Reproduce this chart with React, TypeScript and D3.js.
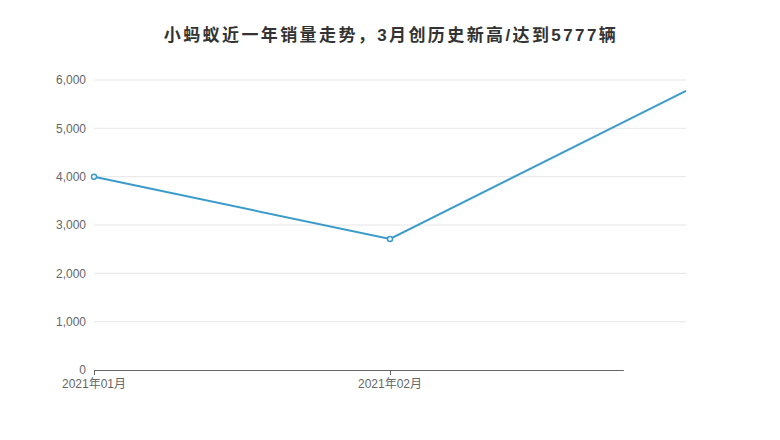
import { useEffect, useRef } from "react"
import * as d3 from "d3"

const months = ["2021年01月", "2021年02月", "2021年03月"]
const sales = [3998, 2710, 5777]
const yTicks = [0, 1000, 2000, 3000, 4000, 5000, 6000]
const shownLabels = ["2021年01月", "2021年02月"]

const title = "小蚂蚁近一年销量走势，3月创历史新高/达到5777辆"

export default function App() {
  const svgRef = useRef<SVGSVGElement>(null)

  useEffect(() => {
    if (!svgRef.current) return
    const root = d3.select(svgRef.current)
    root.selectAll("*").remove()

    const width = 780
    const height = 440
    const margin = { top: 80, right: 94, bottom: 70, left: 94 }
    const innerWidth = width - margin.left - margin.right
    const innerHeight = height - margin.top - margin.bottom
    const font = "'Liberation Sans', Arial, 'Noto Sans CJK SC', sans-serif"

    root.attr("width", width).attr("height", height).style("font-family", font)

    // 标题
    root.append("text")
      .attr("x", width / 2 + 1)
      .attr("y", 41)
      .attr("text-anchor", "middle")
      .attr("font-size", 17)
      .attr("font-weight", "bold")
      .attr("fill", "#333")
      .attr("letter-spacing", 2.4)
      .text(title)

    const g = root.append("g").attr("transform", `translate(${margin.left},${margin.top})`)

    const x = d3.scalePoint<string>().domain(months).range([0, innerWidth])
    const y = d3.scaleLinear().domain([0, 6000]).range([innerHeight, 0])

    // 网格线
    g.selectAll(".grid")
      .data(yTicks.filter(t => t > 0))
      .enter().append("line")
      .attr("x1", 0)
      .attr("x2", innerWidth)
      .attr("y1", d => y(d))
      .attr("y2", d => y(d))
      .attr("stroke", "#e6e6e6")
      .attr("stroke-width", 1)

    // Y 轴标签
    g.selectAll(".ylab")
      .data(yTicks)
      .enter().append("text")
      .attr("x", -8)
      .attr("y", d => y(d))
      .attr("dy", "0.35em")
      .attr("text-anchor", "end")
      .attr("font-size", 12)
      .attr("fill", "#666")
      .text(d => d3.format(",")(d))

    // X 轴线（右端被遮挡）
    const axisEnd = x(months[1])! + innerWidth * 0.395
    g.append("line")
      .attr("x1", 0)
      .attr("x2", axisEnd)
      .attr("y1", innerHeight + 0.5)
      .attr("y2", innerHeight + 0.5)
      .attr("stroke", "#666")
      .attr("stroke-width", 1)

    g.selectAll(".xtick")
      .data(shownLabels)
      .enter().append("line")
      .attr("x1", d => x(d)! + 0.5)
      .attr("x2", d => x(d)! + 0.5)
      .attr("y1", innerHeight)
      .attr("y2", innerHeight + 5)
      .attr("stroke", "#666")

    g.selectAll(".xlab")
      .data(shownLabels)
      .enter().append("text")
      .attr("x", d => x(d)!)
      .attr("y", innerHeight + 18)
      .attr("text-anchor", "middle")
      .attr("font-size", 12)
      .attr("fill", "#666")
      .text(d => d)

    const points = months.map((m, i) => ({ m, v: sales[i] }))

    const line = d3.line<{ m: string; v: number }>()
      .x(d => x(d.m)!)
      .y(d => y(d.v))

    g.append("path")
      .datum(points)
      .attr("fill", "none")
      .attr("stroke", "#3a9bcb")
      .attr("stroke-width", 2)
      .attr("d", line)

    g.selectAll(".dot")
      .data(points.slice(0, 2))
      .enter().append("circle")
      .attr("cx", d => x(d.m)!)
      .attr("cy", d => y(d.v))
      .attr("r", 2.5)
      .attr("fill", "#fff")
      .attr("stroke", "#3a9bcb")
      .attr("stroke-width", 1.5)
  }, [])

  return (
    <div style={{ width: 780, height: 440, margin: -8 }}>
      <svg ref={svgRef} style={{ display: "block" }}></svg>
    </div>
  )
}
